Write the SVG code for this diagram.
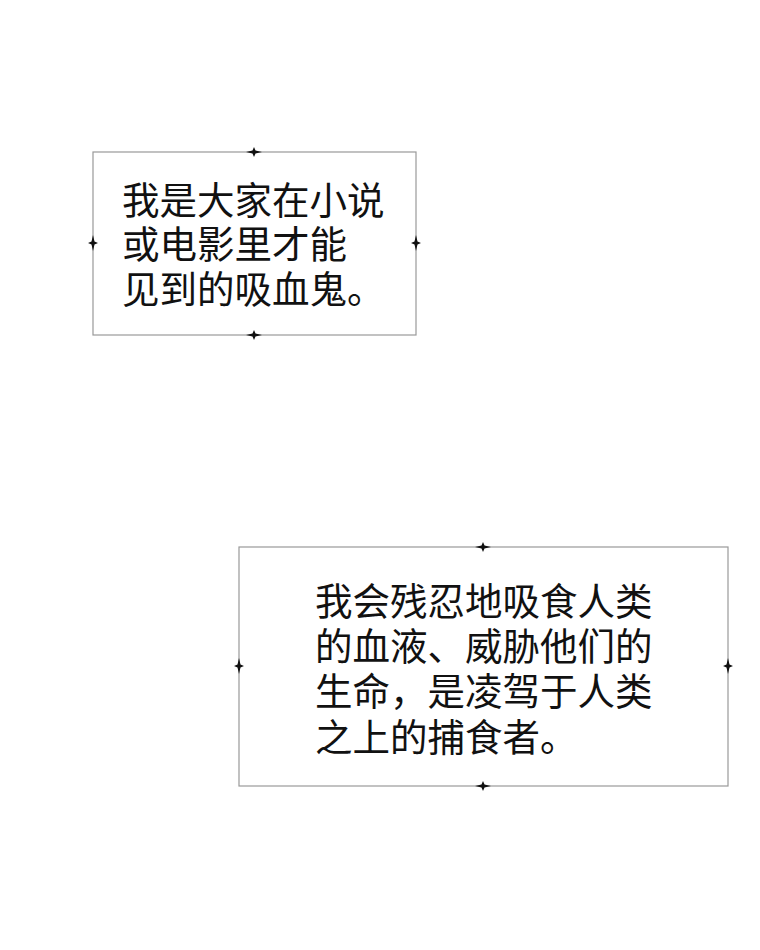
<svg xmlns="http://www.w3.org/2000/svg" width="760" height="950" viewBox="0 0 760 950">
<style>
.b{fill:#fff;stroke:#999;stroke-width:1.2}
.t{font-family:"Noto Sans CJK SC",sans-serif;font-size:37.5px;fill:#111}
.o{fill:#111}
</style>
<defs><path id="st" d="M0,-5 L1.5,-1.5 L8,0 L1.5,1.5 L0,5 L-1.5,1.5 L-8,0 L-1.5,-1.5Z"/></defs>
<rect width="760" height="950" fill="#fff"/>
<g id="box1">
<rect class="b" x="93" y="152" width="323" height="183"/>
<use href="#st" class="o" x="254" y="152"/><use href="#st" class="o" x="254" y="335"/>
<use href="#st" class="o" x="93" y="243" transform="rotate(90 93 243)"/><use href="#st" class="o" x="416" y="243" transform="rotate(90 416 243)"/>
<text class="t" x="122" y="214">我是大家在小说</text>
<text class="t" x="122" y="258">或电影里才能</text>
<text class="t" x="122" y="303">见到的吸血鬼。</text>
</g>
<g id="box2">
<rect class="b" x="239" y="547" width="489" height="239"/>
<use href="#st" class="o" x="483" y="547"/><use href="#st" class="o" x="483" y="786"/>
<use href="#st" class="o" x="239" y="666" transform="rotate(90 239 666)"/><use href="#st" class="o" x="728" y="666" transform="rotate(90 728 666)"/>
<text class="t" x="315" y="615">我会残忍地吸食人类</text>
<text class="t" x="315" y="660">的血液、威胁他们的</text>
<text class="t" x="315" y="705">生命，是凌驾于人类</text>
<text class="t" x="315" y="751">之上的捕食者。</text>
</g>
</svg>
